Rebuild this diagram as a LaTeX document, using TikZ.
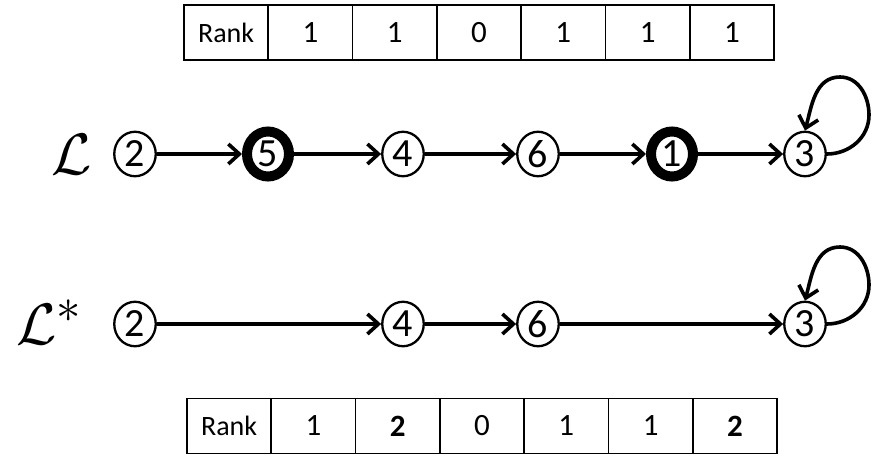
\documentclass[tikz,border=0pt]{standalone}
\usepackage{fontspec}
\setmainfont{Carlito}
\usetikzlibrary{arrows.meta,shapes.geometric}
\begin{document}
\begin{tikzpicture}[x=1pt,y=-1pt,
  vtx/.style={ellipse,draw,line width=2.3pt,minimum width=41.5pt,minimum height=44.5pt,inner sep=0pt,fill=white,
    font=\fontsize{40}{42}\selectfont},
  hot/.style={vtx,line width=10pt,minimum width=42pt,minimum height=45pt},
  arr/.style={line width=3.6pt,-{Straight Barb[length=11pt,width=20pt]}},
  cell/.style={rectangle,draw,line width=1.8pt,minimum width=84.3pt,minimum height=55pt,inner sep=0pt,
    font=\fontsize{31}{33}\selectfont},
  headcell/.style={cell,font=\fontsize{28}{30}\selectfont},
  boldcell/.style={cell,font=\fontsize{31}{33}\selectfont\bfseries},
  lab/.style={inner sep=0pt,font=\fontsize{24.88}{30}\selectfont,scale=2.35}]
\useasboundingbox (0,0) rectangle (872,455);
% top table
\node[headcell] (ta0) at (226.1,32.5) {Rank};
\node[cell] (ta1) at (310.4,32.5) {1};
\node[cell] (ta2) at (394.7,32.5) {1};
\node[cell] (ta3) at (479.0,32.5) {0};
\node[cell] (ta4) at (563.3,32.5) {1};
\node[cell] (ta5) at (647.6,32.5) {1};
\node[cell] (ta6) at (731.9,32.5) {1};
% bottom table
\begin{scope}[every node/.append style={minimum height=56pt}]
\node[headcell] (tb0) at (229.1,426) {Rank};
\node[cell] (tb1) at (313.4,426) {1};
\node[boldcell] (tb2) at (397.7,426) {2};
\node[cell] (tb3) at (482.0,426) {0};
\node[cell] (tb4) at (566.3,426) {1};
\node[cell] (tb5) at (650.6,426) {1};
\node[boldcell] (tb6) at (734.9,426) {2};
\end{scope}
% labels
\node[lab,anchor=base west] (L1) at (51,174) {$\mathcal{L}$};
\node[lab,anchor=base west] (L2) at (16,344) {$\mathcal{L}^{\ast}$};
% row 1
\node[vtx] (a2) at (135,154) {2};
\node[hot] (a5) at (268,154) {5};
\node[vtx] (a4) at (403,154) {4};
\node[vtx] (a6) at (538,154) {6};
\node[hot] (a1) at (672,154) {1};
\node[vtx] (a3) at (805,154) {3};
\draw[arr] (a2) -- (a5);
\draw[arr] (a5) -- (a4);
\draw[arr] (a4) -- (a6);
\draw[arr] (a6) -- (a1);
\draw[arr] (a1) -- (a3);
\draw[arr] (a3.east) to[out=0,in=270] (869,115) to[out=90,in=0] (840,77) to[out=180,in=75] (a3.north);
% row 2
\node[vtx] (b2) at (135,324) {2};
\node[vtx] (b4) at (403,324) {4};
\node[vtx] (b6) at (538,324) {6};
\node[vtx] (b3) at (805,324) {3};
\draw[arr] (b2) -- (b4);
\draw[arr] (b4) -- (b6);
\draw[arr] (b6) -- (b3);
\draw[arr] (b3.east) to[out=0,in=270] (869,285) to[out=90,in=0] (840,247) to[out=180,in=75] (b3.north);
\end{tikzpicture}
\end{document}
